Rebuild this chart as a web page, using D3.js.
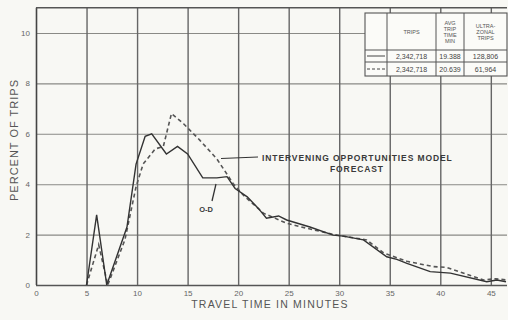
<!DOCTYPE html>
<html>
<head>
<meta charset="utf-8">
<script src="https://cdnjs.cloudflare.com/ajax/libs/d3/7.8.5/d3.min.js"></script>
<style>
  body { margin: 0; background: #f8f8f4; }
  svg { display: block; font-family: "Liberation Sans", Arial, sans-serif; }
</style>
</head>
<body>
<div id="chart"></div>
<script>
// O-D survey distribution (solid)
let odTime = [5, 6, 7, 9, 9.9, 10.8, 11.45, 12.9, 14.0, 15.0, 16.5, 17.9, 18.9, 19.7, 20.9, 22.0, 22.8, 24.0, 24.8, 27.1, 29.4, 30.4, 32.4, 34.7, 35.7, 36.7, 39.0, 41.0, 44.6, 45.6, 46.5]
let odPct  = [0, 2.78, 0, 2.3, 4.8, 5.9, 6.0, 5.2, 5.5, 5.2, 4.25, 4.25, 4.3, 3.83, 3.5, 3.04, 2.65, 2.74, 2.58, 2.3, 1.98, 1.94, 1.79, 1.12, 1.02, 0.86, 0.53, 0.47, 0.13, 0.2, 0.13]
// intervening opportunities model forecast (dashed)
let foTime = [5, 6.2, 7.1, 8.8, 9.9, 10.6, 11.8, 12.6, 13.4, 14.6, 16.2, 17.9, 19.5, 20.5, 22.5, 24.8, 26.8, 29.5, 31.0, 32.7, 34.4, 36.7, 39.3, 40.6, 44.3, 45.5, 46.5]
let foPct  = [0, 1.6, 0, 1.8, 3.9, 4.8, 5.4, 5.5, 6.8, 6.4, 5.75, 5.0, 4.03, 3.57, 2.85, 2.45, 2.25, 2.0, 1.9, 1.79, 1.27, 0.94, 0.73, 0.7, 0.2, 0.25, 0.2]

let xTicks = [0, 5, 10, 15, 20, 25, 30, 35, 40, 45]
let yTicks = [0, 2, 4, 6, 8, 10]

// legend table
let tableHead = [[""], ["TRIPS"], ["AVG", "TRIP", "TIME", "MIN"], ["ULTRA-", "ZONAL", "TRIPS"]]
let tableRows = [
  {dash: null,  cells: ["2,342,718", "19.388", "128,806"]},
  {dash: "3,2", cells: ["2,342,718", "20.639", "61,964"]}
]

let W = 508, H = 320
let svg = d3.select("#chart").append("svg").attr("width", W).attr("height", H)

let x = d3.scaleLinear().domain([0, 46.6]).range([36, 507])
let y = d3.scaleLinear().domain([0, 11]).range([285, 7.8])

// horizontal grid
let yAxis = d3.axisLeft(y).tickValues(yTicks).tickSize(-(507 - 36)).tickPadding(6).tickFormat(d3.format("d"))
let gy = svg.append("g").attr("transform", "translate(36,0)").call(yAxis)
gy.select(".domain").remove()
gy.selectAll(".tick line").attr("stroke", "#8a8a86").attr("stroke-width", 1.1)
gy.selectAll(".tick text").attr("fill", "#666").style("font-size", "8px")
gy.selectAll(".tick").filter(d => d === 0).select("line").attr("stroke", "#555").attr("stroke-width", 1.4)

// vertical grid
let xAxis = d3.axisBottom(x).tickValues(xTicks).tickSize(-(285 - 7.8)).tickPadding(5)
let gx = svg.append("g").attr("transform", "translate(0,285)").call(xAxis)
gx.select(".domain").remove()
gx.selectAll(".tick line").attr("stroke", "#666").attr("stroke-width", 1.4)
gx.selectAll(".tick text").attr("fill", "#666").style("font-size", "8px")
gx.selectAll(".tick").filter(d => d === 0).select("line").attr("stroke", "#444").attr("stroke-width", 1.6)

// top frame
svg.append("line").attr("x1", x(0)).attr("x2", 507).attr("y1", y(11)).attr("y2", y(11))
  .attr("stroke", "#555").attr("stroke-width", 1.4)

// axis titles
svg.append("text").attr("transform", "translate(14,140) rotate(-90)")
  .attr("text-anchor", "middle").attr("dominant-baseline", "central")
  .style("font-size", "11px").style("letter-spacing", "1px").attr("fill", "#555")
  .text("PERCENT OF TRIPS")
svg.append("text").attr("x", 270).attr("y", 308)
  .attr("text-anchor", "middle").style("font-size", "10.5px").style("letter-spacing", "1.2px").attr("fill", "#555")
  .text("TRAVEL TIME IN MINUTES")

// series
let line = d3.line().x(d => x(d[0])).y(d => y(d[1]))
svg.append("path").datum(d3.zip(foTime, foPct)).attr("d", line)
  .attr("fill", "none").attr("stroke", "#555").attr("stroke-width", 1.6).attr("stroke-dasharray", "4,3")
svg.append("path").datum(d3.zip(odTime, odPct)).attr("d", line)
  .attr("fill", "none").attr("stroke", "#333").attr("stroke-width", 1.4)

// annotations
svg.append("line").attr("x1", 221).attr("y1", 158.5).attr("x2", 258).attr("y2", 157)
  .attr("stroke", "#333").attr("stroke-width", 1.2)
svg.append("text").attr("x", 262).attr("y", 160.5)
  .style("font-size", "8.5px").style("font-weight", "bold").style("letter-spacing", "0.9px").attr("fill", "#3a3a3a")
  .text("INTERVENING OPPORTUNITIES MODEL")
svg.append("text").attr("x", 357).attr("y", 172)
  .attr("text-anchor", "middle")
  .style("font-size", "8.5px").style("font-weight", "bold").style("letter-spacing", "0.9px").attr("fill", "#3a3a3a")
  .text("FORECAST")
svg.append("line").attr("x1", 212).attr("y1", 201).attr("x2", 216).attr("y2", 184)
  .attr("stroke", "#333").attr("stroke-width", 1.3)
svg.append("text").attr("x", 206).attr("y", 212).attr("text-anchor", "middle")
  .style("font-size", "7.5px").style("font-weight", "bold").attr("fill", "#3a3a3a")
  .text("O-D")

// legend table
let colX = [365, 387, 436, 464, 507]
let rowY = [13, 50, 62, 76]
let tbl = svg.append("g")
tbl.append("rect").attr("x", colX[0]).attr("y", rowY[0]).attr("width", colX[4] - colX[0]).attr("height", rowY[3] - rowY[0])
  .attr("fill", "#fbfbf8").attr("stroke", "#555").attr("stroke-width", 1.1)
colX.slice(1, 4).forEach(cx => tbl.append("line").attr("x1", cx).attr("x2", cx).attr("y1", rowY[0]).attr("y2", rowY[3]).attr("stroke", "#555").attr("stroke-width", 1))
rowY.slice(1, 3).forEach(ry => tbl.append("line").attr("x1", colX[0]).attr("x2", colX[4]).attr("y1", ry).attr("y2", ry).attr("stroke", "#555").attr("stroke-width", 1))

tableHead.forEach((lines, c) => {
  let cx = (colX[c] + colX[c + 1]) / 2
  let lh = 6
  let y0 = (rowY[0] + rowY[1]) / 2 - (lines.length - 1) * lh / 2
  lines.forEach((t, i) => {
    tbl.append("text").attr("x", cx).attr("y", y0 + i * lh).attr("text-anchor", "middle").attr("dominant-baseline", "central")
      .style("font-size", "5.5px").attr("fill", "#555").text(t)
  })
})
tableRows.forEach((r, i) => {
  let cy = (rowY[i + 1] + rowY[i + 2]) / 2
  tbl.append("line").attr("x1", 367).attr("x2", 385).attr("y1", cy).attr("y2", cy)
    .attr("stroke", "#444").attr("stroke-width", 1).attr("stroke-dasharray", r.dash)
  r.cells.forEach((t, c) => {
    tbl.append("text").attr("x", (colX[c + 1] + colX[c + 2]) / 2).attr("y", cy)
      .attr("text-anchor", "middle").attr("dominant-baseline", "central")
      .style("font-size", "7px").attr("fill", "#444").text(t)
  })
})
</script>
</body>
</html>
